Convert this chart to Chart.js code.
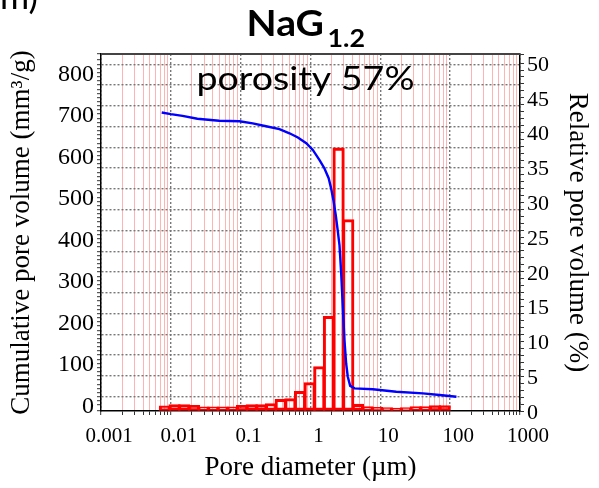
<!DOCTYPE html>
<html>
<head>
<meta charset="utf-8">
<script src="https://cdn.jsdelivr.net/npm/chart.js@4.4.1/dist/chart.umd.min.js"></script>
<style>
    html, body { margin: 0; padding: 0; background: #fff; }
    #wrap { width: 599px; height: 488px; }
</style>
</head>
<body>
<div id="wrap"><canvas id="poreChart" width="599" height="488"></canvas></div>
<script>
// cumulative pore volume curve (left axis)
const lineDiameters = [0.0074, 0.010, 0.0147, 0.024, 0.049, 0.096, 0.149, 0.231, 0.359, 0.50, 0.66, 0.87, 1.08, 1.34, 1.58, 1.82, 1.97, 2.13, 2.30, 2.45, 2.60, 2.75, 2.90, 3.06, 3.24, 3.42, 3.70, 4.27, 7.8, 16.9, 40.7, 70.6, 123];
const cumulativeVolume = [684, 680, 676, 669, 664, 663, 658, 651, 644, 634, 624, 610, 594, 570, 550, 526, 502, 473, 437, 401, 365, 297, 217, 137, 80, 48, 26, 20, 18, 12, 8, 4, 0];

// relative pore volume histogram (right axis)
const binDiameters = [0.00823, 0.01131, 0.01555, 0.02138, 0.02938, 0.0404, 0.05551, 0.0763, 0.1049, 0.1442, 0.1982, 0.2723, 0.3744, 0.5146, 0.7072, 0.9723, 1.336, 1.837, 2.525, 3.471, 4.77, 6.557, 9.015, 12.39, 17.03, 23.4, 32.17, 44.22, 60.79, 83.56];
const relativeVolume = [0.75, 0.94, 0.94, 0.8, 0.61, 0.61, 0.61, 0.61, 0.8, 0.94, 0.94, 1.08, 1.68, 1.78, 2.83, 4.08, 6.38, 13.6, 37.8, 27.5, 0.98, 0.63, 0.53, 0.48, 0.43, 0.48, 0.63, 0.63, 0.78, 0.78];

// axis ticks
const xTickValues = [0.001, 0.01, 0.1, 1, 10, 100, 1000];
const xTickLabels = ['0.001', '0.01', '0.1', '1', '10', '100', '1000'];
const leftTickLabels = [0, 100, 200, 300, 400, 500, 600, 700, 800];
const rightTickLabels = [0, 5, 10, 15, 20, 25, 30, 35, 40, 45, 50];

document.addEventListener('DOMContentLoaded', () => {
    const serif = 'Liberation Serif';
    const dotGray = '#777777';
    const pink = '#ffb4b4';

    const isMultiple = (v, m) => Math.abs(v - Math.round(v / m) * m) < 1e-6;
    const isDecade = (v) => {
        const l = Math.log10(v);
        return Math.abs(l - Math.round(l)) < 1e-6;
    };

    // minor log positions 1..9 x 10^n for the grid and tick marks
    const xGridValues = [];
    for (let e = -3; e < 3; e++) {
        for (let m = 1; m < 10; m++) xGridValues.push(m * Math.pow(10, e));
    }
    xGridValues.push(1000);

    // draw text squeezed/stretched to a given width
    const fitText = (ctx, text, x, y, width) => {
        const w = ctx.measureText(text).width;
        ctx.save();
        ctx.translate(x, y);
        ctx.scale(width / w, 1);
        ctx.fillText(text, 0, 0);
        ctx.restore();
    };

    const textPlugin = {
        id: 'texts',
        afterDraw(chart) {
            const ctx = chart.ctx;
            const area = chart.chartArea;
            ctx.save();
            // top frame line
            ctx.strokeStyle = '#444';
            ctx.lineWidth = 2;
            ctx.beginPath();
            ctx.moveTo(area.left, area.top);
            ctx.lineTo(area.right, area.top);
            ctx.stroke();

            ctx.fillStyle = '#000';
            ctx.textBaseline = 'alphabetic';
            ctx.textAlign = 'left';
            // fragment of neighbouring panel label
            ctx.font = '34px Lato';
            fitText(ctx, 'm)', 0, 9, 38);
            // title NaG with subscript
            ctx.font = 'bold 36px Lato';
            fitText(ctx, 'NaG', 246.5, 36, 77.5);
            ctx.font = 'bold 25px Lato';
            fitText(ctx, '1.2', 327.5, 46.5, 37.5);
            // annotation
            ctx.font = '32px Lato';
            fitText(ctx, 'porosity 57%', 196.5, 90, 218);
            ctx.restore();
        }
    };

    const ctx = document.getElementById('poreChart').getContext('2d');
    new Chart(ctx, {
        type: 'bar',
        data: {
            datasets: [
                {
                    type: 'line',
                    label: 'Cumulative pore volume',
                    data: lineDiameters.map((d, i) => ({ x: d, y: cumulativeVolume[i] })),
                    xAxisID: 'x',
                    yAxisID: 'y',
                    borderColor: '#0000ff',
                    borderWidth: 2.4,
                    pointRadius: 0,
                    tension: 0,
                    fill: false,
                    order: 0
                },
                {
                    type: 'bar',
                    label: 'Relative pore volume',
                    data: binDiameters.map((d, i) => ({ x: d, y: relativeVolume[i] })),
                    xAxisID: 'x',
                    yAxisID: 'y2',
                    backgroundColor: 'rgba(0,0,0,0)',
                    borderColor: '#ff0000',
                    borderWidth: 2.4,
                    borderSkipped: false,
                    barThickness: 'flex',
                    barPercentage: 1.2,
                    categoryPercentage: 1,
                    order: 1
                }
            ]
        },
        options: {
            responsive: false,
            animation: false,
            layout: { padding: { top: 54, left: 0, right: 0, bottom: 0 } },
            plugins: {
                legend: { display: false },
                tooltip: { enabled: false },
                title: { display: false }
            },
            scales: {
                x: {
                    type: 'logarithmic',
                    position: 'bottom',
                    min: 0.001,
                    max: 1000,
                    offset: false,
                    afterFit: (s) => { s.height = 77; },
                    afterBuildTicks: (s) => { s.ticks = xGridValues.map(v => ({ value: v })); },
                    ticks: {
                        autoSkip: false,
                        maxRotation: 0,
                        padding: 9,
                        labelOffset: 8,
                        color: '#000',
                        font: { family: serif, size: 21 },
                        callback: (v) => {
                            const i = xTickValues.findIndex(t => Math.abs(t - v) / t < 1e-6);
                            return i >= 0 ? xTickLabels[i] : '';
                        }
                    },
                    grid: {
                        offset: false,
                        color: (c) => (c.tick && isDecade(c.tick.value)) ? dotGray : pink,
                        lineWidth: (c) => (c.tick && isDecade(c.tick.value)) ? 1.4 : 1,
                        tickColor: '#333',
                        tickLength: 4,
                        tickWidth: 1
                    },
                    border: {
                        color: '#000',
                        width: 1.5,
                        dash: (c) => (c.tick && isDecade(c.tick.value)) ? [2, 2] : []
                    },
                    title: {
                        display: true,
                        text: 'Pore diameter (µm)',
                        color: '#000',
                        font: { family: serif, size: 27 },
                        padding: { top: 0, bottom: 4 }
                    }
                },
                y: {
                    type: 'linear',
                    position: 'left',
                    min: -34.4,
                    max: 824.8,
                    afterFit: (s) => { s.width = 101; },
                    ticks: {
                        stepSize: 10,
                        autoSkip: false,
                        padding: 3,
                        labelOffset: 10,
                        color: '#000',
                        font: { family: serif, size: 24 },
                        callback: (v) => leftTickLabels.some(t => Math.abs(t - v) < 1e-6) ? v : ''
                    },
                    grid: {
                        color: (c) => (c.tick && c.tick.value >= 0 && isMultiple(c.tick.value, 50)) ? dotGray : 'rgba(0,0,0,0)',
                        lineWidth: 1.4,
                        tickColor: '#333',
                        tickLength: 4,
                        tickWidth: 1
                    },
                    border: { color: '#000', width: 1.5, dash: [2, 2] },
                    title: {
                        display: true,
                        text: 'Cumulative pore volume (mm³/g)',
                        color: '#000',
                        font: { family: serif, size: 27 },
                        padding: { top: 6, bottom: 0 }
                    }
                },
                y2: {
                    type: 'linear',
                    position: 'right',
                    min: 0,
                    max: 51.3,
                    afterFit: (s) => { s.width = 79; },
                    ticks: {
                        stepSize: 1,
                        autoSkip: false,
                        padding: 3,
                        labelOffset: 2,
                        color: '#000',
                        font: { family: serif, size: 22 },
                        callback: (v) => rightTickLabels.some(t => Math.abs(t - v) < 1e-6) ? v : ''
                    },
                    grid: {
                        drawOnChartArea: false,
                        tickColor: '#333',
                        tickLength: 4,
                        tickWidth: 1
                    },
                    border: { color: '#000', width: 1.5 },
                    title: {
                        display: true,
                        text: 'Relative pore volume (%)',
                        color: '#000',
                        font: { family: serif, size: 27 },
                        padding: { top: 6, bottom: 0 }
                    }
                }
            }
        },
        plugins: [textPlugin]
    });
});
</script>
</body>
</html>
